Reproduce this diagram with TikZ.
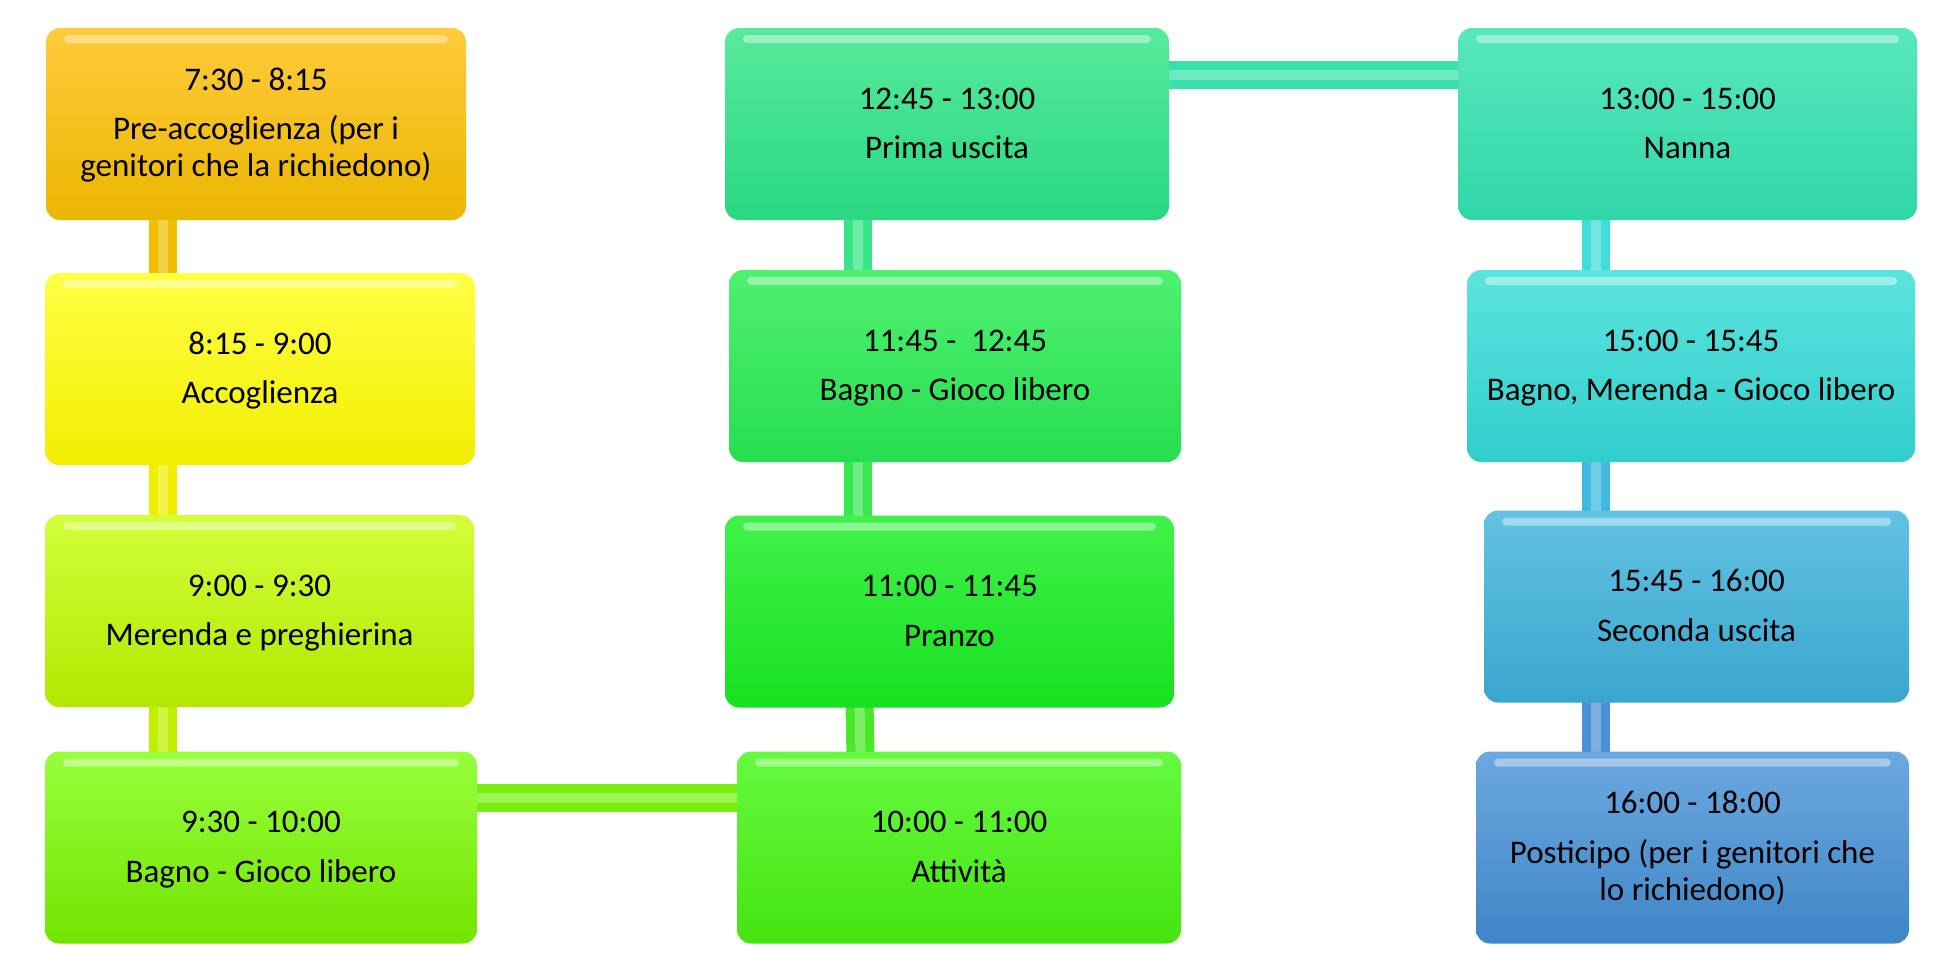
\documentclass[tikz,border=0pt]{standalone}
\usepackage{fontspec}
\setmainfont{Carlito}
\usetikzlibrary{backgrounds,calc}
\definecolor{b1t}{HTML}{FFCB3C}\definecolor{b1b}{HTML}{EBB600}
\definecolor{b2t}{HTML}{FFFF45}\definecolor{b2b}{HTML}{F2EE00}
\definecolor{b3t}{HTML}{D2FF3A}\definecolor{b3b}{HTML}{B2E800}
\definecolor{b4t}{HTML}{98FF3C}\definecolor{b4b}{HTML}{72E400}
\definecolor{c4t}{HTML}{66FA40}\definecolor{c4b}{HTML}{44E410}
\definecolor{c3t}{HTML}{40F24A}\definecolor{c3b}{HTML}{18E020}
\definecolor{c2t}{HTML}{50F070}\definecolor{c2b}{HTML}{26DE50}
\definecolor{c1t}{HTML}{58EA9C}\definecolor{c1b}{HTML}{28D880}
\definecolor{d1t}{HTML}{58E8BC}\definecolor{d1b}{HTML}{30D6A8}
\definecolor{d2t}{HTML}{5CE4DE}\definecolor{d2b}{HTML}{30CECC}
\definecolor{d3t}{HTML}{62C2E2}\definecolor{d3b}{HTML}{3AA6CE}
\definecolor{d4t}{HTML}{6CA8E0}\definecolor{d4b}{HTML}{3F86C6}
% connector colours
\definecolor{k1m}{HTML}{F0C000}
\definecolor{k2m}{HTML}{F0EE00}
\definecolor{k3m}{HTML}{C0F000}
\definecolor{k4m}{HTML}{78EE10}
\definecolor{k5m}{HTML}{48E828}
\definecolor{k6m}{HTML}{38E850}
\definecolor{k7m}{HTML}{38E488}
\definecolor{k8m}{HTML}{38E0AC}
\definecolor{k9m}{HTML}{40DED8}
\definecolor{k10m}{HTML}{40B8E0}
\definecolor{k11m}{HTML}{4A90D8}
\tikzset{
  box/.style={rectangle, rounded corners=7pt, minimum height=96pt, inner sep=0pt, draw=none,
    path picture={
      \fill[white, opacity=0.4, rounded corners=2pt]
        ([xshift=9pt,yshift=-3.5pt]path picture bounding box.north west) rectangle
        ([xshift=-9pt,yshift=-7.5pt]path picture bounding box.north east);
    }},
  txt/.style={align=center, inner sep=0pt, font=\fontsize{16.5}{18.35}\selectfont},
  bar/.style={draw=#1, double=#1!72!white, line width=4.5pt, double distance=5pt}
}
\begin{document}
\begin{tikzpicture}[x=0.5pt,y=-0.5pt]
\useasboundingbox (0,0) rectangle (1935,969);
% column 1
\node[box, minimum width=210pt, top color=b1t, bottom color=b1b] (b1) at (256,124) {};
\node[box, minimum width=215pt, top color=b2t, bottom color=b2b] (b2) at (260,369) {};
\node[box, minimum width=214.5pt, top color=b3t, bottom color=b3b] (b3) at (259.5,611) {};
\node[box, minimum width=216pt, top color=b4t, bottom color=b4b] (b4) at (261,847.5) {};
% column 2
\node[box, minimum width=222pt, top color=c1t, bottom color=c1b] (c1) at (947,124) {};
\node[box, minimum width=226pt, top color=c2t, bottom color=c2b] (c2) at (955,366) {};
\node[box, minimum width=224.5pt, top color=c3t, bottom color=c3b] (c3) at (949.5,611.5) {};
\node[box, minimum width=222pt, top color=c4t, bottom color=c4b] (c4) at (959,847.5) {};
% column 3
\node[box, minimum width=229.5pt, top color=d1t, bottom color=d1b] (d1) at (1687.5,124) {};
\node[box, minimum width=224pt, top color=d2t, bottom color=d2b] (d2) at (1691,366) {};
\node[box, minimum width=212.5pt, top color=d3t, bottom color=d3b] (d3) at (1696.5,606.5) {};
\node[box, minimum width=216.5pt, top color=d4t, bottom color=d4b] (d4) at (1692.5,847.5) {};
% texts
\node[txt] (b1x) at ([yshift=-1pt]b1.center) {\strut 7:30 - 8:15\\[6.5pt]\strut Pre-accoglienza (per i\\\strut genitori che la richiedono)};
\node[txt] (b2x) at ([yshift=-1.3pt]b2.center) {\strut 8:15 - 9:00\\[6.5pt]\strut Accoglienza};
\node[txt] (b3x) at ([yshift=-1.3pt]b3.center) {\strut 9:00 - 9:30\\[6.5pt]\strut Merenda e preghierina};
\node[txt] (b4x) at ([yshift=-1.3pt]b4.center) {\strut 9:30 - 10:00\\[6.5pt]\strut Bagno - Gioco libero};
\node[txt] (c1x) at ([yshift=-1.3pt]c1.center) {\strut 12:45 - 13:00\\[6.5pt]\strut Prima uscita};
\node[txt] (c2x) at ([yshift=-1.3pt]c2.center) {\strut 11:45 -~ 12:45\\[6.5pt]\strut Bagno - Gioco libero};
\node[txt] (c3x) at ([yshift=-1.3pt]c3.center) {\strut 11:00 - 11:45\\[6.5pt]\strut Pranzo};
\node[txt] (c4x) at ([yshift=-1.3pt]c4.center) {\strut 10:00 - 11:00\\[6.5pt]\strut Attività};
\node[txt] (d1x) at ([yshift=-1.3pt]d1.center) {\strut 13:00 - 15:00\\[6.5pt]\strut Nanna};
\node[txt] (d2x) at ([yshift=-1.3pt]d2.center) {\strut 15:00 - 15:45\\[6.5pt]\strut Bagno, Merenda - Gioco libero};
\node[txt] (d3x) at ([yshift=-1.3pt]d3.center) {\strut 15:45 - 16:00\\[6.5pt]\strut Seconda uscita};
\node[txt] (d4x) at ([yshift=-1pt]d4.center) {\strut 16:00 - 18:00\\[6.5pt]\strut Posticipo (per i genitori che\\\strut lo richiedono)};
% connector guide coordinates
\coordinate (xa) at (163,0);
\coordinate (xb1) at (858,0);
\coordinate (xb2) at (862,0);
\coordinate (xc) at (1596,0);
\coordinate (ya) at (0,798);
\coordinate (yb) at (0,75);
\begin{scope}[on background layer]
\fill[white] (0,0) rectangle (1935,969);
\draw[bar=k1m] (b1.center -| xa) -- (b2.center -| xa);
\draw[bar=k2m] (b2.center -| xa) -- (b3.center -| xa);
\draw[bar=k3m] (b3.center -| xa) -- (b4.center -| xa);
\draw[bar=k4m] (b4.center |- ya) -- (c4.center |- ya);
\draw[bar=k5m] (c4.center -| xb2) -- (c3.center -| xb1);
\draw[bar=k6m] (c3.center -| xb1) -- (c2.center -| xb1);
\draw[bar=k7m] (c2.center -| xb1) -- (c1.center -| xb1);
\draw[bar=k8m] (c1.center |- yb) -- (d1.center |- yb);
\draw[bar=k9m] (d1.center -| xc) -- (d2.center -| xc);
\draw[bar=k10m] (d2.center -| xc) -- (d3.center -| xc);
\draw[bar=k11m] (d3.center -| xc) -- (d4.center -| xc);
\end{scope}
\end{tikzpicture}
\end{document}
